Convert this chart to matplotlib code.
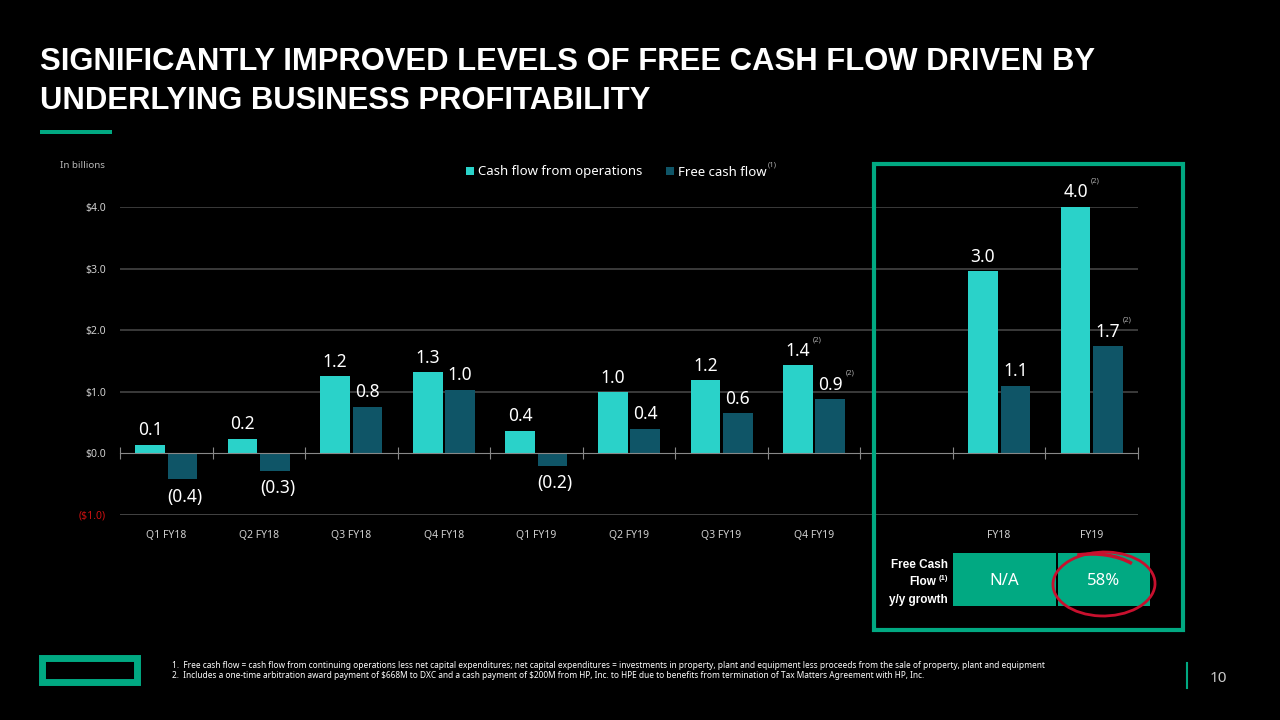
import numpy as np
import matplotlib
matplotlib.use('Agg')
import matplotlib.pyplot as plt
from matplotlib.patches import Rectangle, Ellipse, Arc
from matplotlib.transforms import blended_transform_factory

plt.rcParams['font.family'] = ['Noto Sans', 'DejaVu Sans']

# data (in billions)
categories = ['Q1 FY18', 'Q2 FY18', 'Q3 FY18', 'Q4 FY18', 'Q1 FY19',
              'Q2 FY19', 'Q3 FY19', 'Q4 FY19', '', 'FY18', 'FY19']
cfo = [0.14, 0.24, 1.25, 1.32, 0.37, 0.99, 1.19, 1.43, None, 2.96, 4.0]
fcf = [-0.42, -0.28, 0.76, 1.03, -0.20, 0.40, 0.65, 0.88, None, 1.10, 1.74]
cfo_labels = ['0.1', '0.2', '1.2', '1.3', '0.4', '1.0', '1.2', '1.4', '', '3.0', '4.0']
fcf_labels = ['(0.4)', '(0.3)', '0.8', '1.0', '(0.2)', '0.4', '0.6', '0.9', '', '1.1', '1.7']
cfo_note = [7, 10]   # indices carrying footnote (2)
fcf_note = [7, 10]
yticks = [-1, 0, 1, 2, 3, 4]
ytick_labels = ['($1.0)', '$0.0', '$1.0', '$2.0', '$3.0', '$4.0']
growth_labels = ['N/A', '58%']
footnotes = [
    '1.  Free cash flow = cash flow from continuing operations less net capital expenditures; net capital expenditures = investments in property, plant and equipment less proceeds from the sale of property, plant and equipment',
    '2.  Includes a one-time arbitration award payment of \\$668M to DXC and a cash payment of \\$200M from HP, Inc. to HPE due to benefits from termination of Tax Matters Agreement with HP, Inc.',
]

TEAL = '#2AD2C9'
DARK = '#0F5567'
GREEN = '#01A982'
GRID = '#4a4a4a'
LIGHT = '#d0d0d0'

W, H = 1280, 720
fig = plt.figure(figsize=(12.8, 7.2), dpi=100, facecolor='black')

def fx(px):
    return px / W

def fy(py):
    return 1 - py / H

# title
fig.text(fx(40), fy(62), 'SIGNIFICANTLY IMPROVED LEVELS OF FREE CASH FLOW DRIVEN BY',
         color='white', fontsize=22.3, fontweight='bold', family='Liberation Sans', va='center')
fig.text(fx(40), fy(101), 'UNDERLYING BUSINESS PROFITABILITY',
         color='white', fontsize=22.3, fontweight='bold', family='Liberation Sans', va='center')
fig.patches.append(Rectangle((fx(40), fy(134)), fx(72), 4 / H, transform=fig.transFigure,
                             color=GREEN, lw=0))

fig.text(fx(60), fy(165), 'In billions', color='#bbbbbb', fontsize=7, va='center')

# chart axes
ax = fig.add_axes([fx(120), fy(515), fx(1018), (515 - 207) / H])
ax.set_facecolor('black')
x = np.arange(len(categories))
bw = 0.32
idx = [i for i in x if cfo[i] is not None]
ax.bar([i - 0.175 for i in idx], [cfo[i] for i in idx], bw, color=TEAL, zorder=3,
       label='Cash flow from operations')
ax.bar([i + 0.175 for i in idx], [fcf[i] for i in idx], bw, color=DARK, zorder=3,
       label='Free cash flow')

ax.set_xlim(-0.5, 10.5)
ax.set_ylim(-1, 4)
ax.set_yticks(yticks)
ax.set_yticklabels(ytick_labels, fontsize=7.5, color=LIGHT)
ax.get_yticklabels()[0].set_color('#cc1111')
ax.tick_params(axis='y', length=0, pad=10)
for v in [-1, 1, 2, 3, 4]:
    ax.axhline(v, color=GRID, lw=1.1 if v != -1 else 2, zorder=1)
for s in ['top', 'right', 'left']:
    ax.spines[s].set_visible(False)
ax.spines['bottom'].set_position(('data', 0))
ax.spines['bottom'].set_color('#888888')
ax.spines['bottom'].set_zorder(4)
ax.set_xticks(np.arange(-0.5, 11, 1))
ax.set_xticklabels([])
ax.tick_params(axis='x', direction='inout', length=8, color='#888888')

trans = blended_transform_factory(ax.transData, ax.transAxes)
for i, c in enumerate(categories):
    ax.text(i, -0.05, c, transform=trans, ha='center', va='top', fontsize=7.5, color=LIGHT)

# value labels
for i in idx:
    ax.annotate(cfo_labels[i], (i - 0.175, cfo[i]), xytext=(0, 4), textcoords='offset points',
                ha='center', va='bottom', fontsize=12.5, color='white', zorder=5)
    if fcf[i] >= 0:
        ax.annotate(fcf_labels[i], (i + 0.175, fcf[i]), xytext=(0, 4), textcoords='offset points',
                    ha='center', va='bottom', fontsize=12.5, color='white', zorder=5)
    else:
        ax.annotate(fcf_labels[i], (i + 0.2, fcf[i]), xytext=(0, -6), textcoords='offset points',
                    ha='center', va='top', fontsize=12.5, color='white', zorder=5)
for i in cfo_note:
    ax.annotate('(2)', (i - 0.175, cfo[i]), xytext=(14, 16), textcoords='offset points',
                ha='center', va='bottom', fontsize=5.5, color='#aaaaaa')
for i in fcf_note:
    ax.annotate('(2)', (i + 0.175, fcf[i]), xytext=(14, 16), textcoords='offset points',
                ha='center', va='bottom', fontsize=5.5, color='#aaaaaa')

# legend
leg = fig.legend(loc='center', bbox_to_anchor=(fx(616), fy(172)), ncol=2, frameon=False,
                 fontsize=9.5, handlelength=0.6, handleheight=0.6, handletextpad=0.3,
                 columnspacing=1.8, labelcolor='white')
fig.text(fx(768), fy(165), '(1)', color='#aaaaaa', fontsize=5.5, va='center')

# highlight frame
fig.patches.append(Rectangle((fx(874), fy(630)), fx(309), (630 - 164) / H,
                             transform=fig.transFigure, fill=False, ec=GREEN, lw=3))

# growth table
bold = dict(color='white', fontweight='bold', family='Liberation Sans', ha='right', va='center')
fig.text(fx(948), fy(565), 'Free Cash', fontsize=8.5, **bold)
fig.text(fx(936), fy(582), 'Flow', fontsize=8.5, **bold)
fig.text(fx(948), fy(579), '(1)', fontsize=5.5, **bold)
fig.text(fx(948), fy(600), 'y/y growth', fontsize=8.5, **bold)
for (x0, x1), lab in zip([(953, 1056), (1058, 1150)], growth_labels):
    fig.patches.append(Rectangle((fx(x0), fy(606)), fx(x1 - x0), (606 - 553) / H,
                                 transform=fig.transFigure, color=GREEN, lw=0))
    fig.text(fx((x0 + x1) / 2), fy(581), lab, color='white', fontsize=12,
             ha='center', va='center')
fig.patches.append(Ellipse((fx(1104), fy(584)), fx(102), 64 / H, angle=-4,
                           transform=fig.transFigure, fill=False, ec='#c8102e', lw=2))
fig.patches.append(Arc((fx(1092), fy(586)), fx(112), 64 / H, theta1=45, theta2=105,
                       transform=fig.transFigure, ec='#c8102e', lw=2.5))

# footer
fig.patches.append(Rectangle((fx(42), fy(682)), fx(95), 24 / H, transform=fig.transFigure,
                             fill=False, ec=GREEN, lw=5))
for k, t in enumerate(footnotes):
    fig.text(fx(172), fy(665 + 11 * k), t, color='white', fontsize=6.0, va='center')
fig.lines.append(plt.Line2D([fx(1187), fx(1187)], [fy(663), fy(688)],
                            transform=fig.transFigure, color=GREEN, lw=1.5))
fig.text(fx(1210), fy(679), '10', color='#cccccc', fontsize=11, va='center')

fig.savefig('out.png', dpi=100, facecolor='black')
